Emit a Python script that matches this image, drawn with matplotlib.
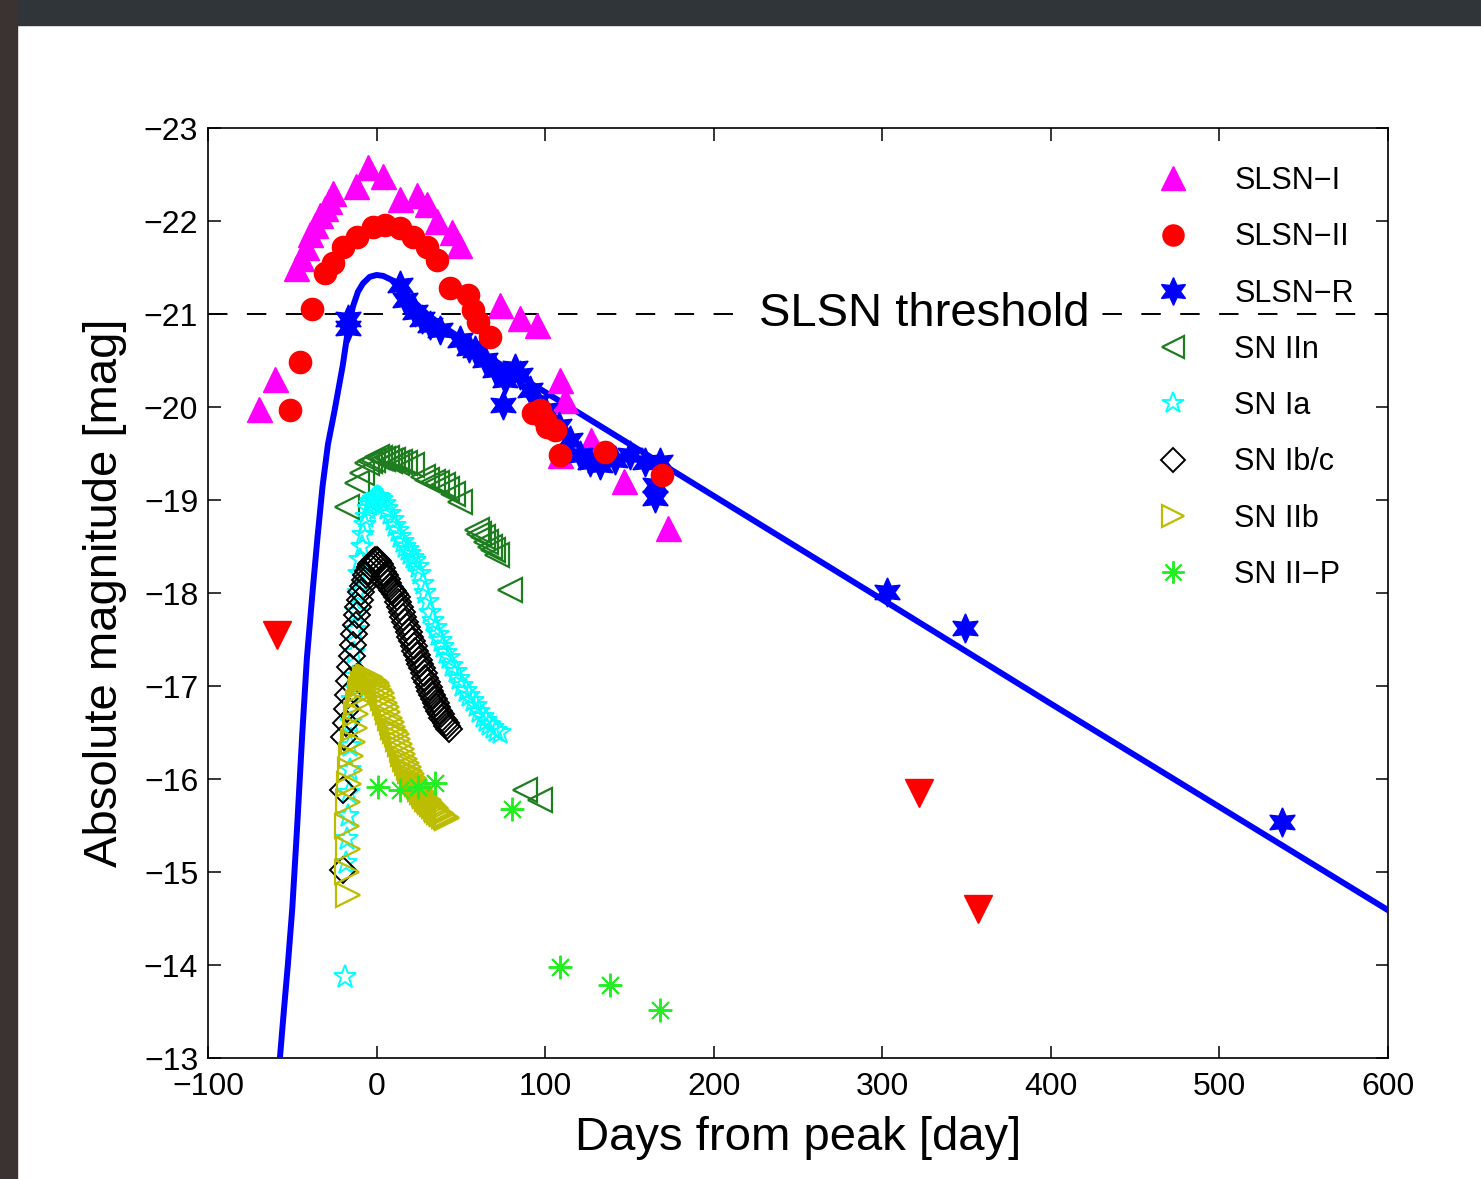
import matplotlib
matplotlib.use("Agg")
import matplotlib.pyplot as plt
from matplotlib.patches import Rectangle

plt.rcParams["font.family"] = ["Liberation Sans", "DejaVu Sans"]

# ── data ────────────────────────────────────────────────────────────────────
slsn1_days = [-70, -60, -48, -45, -42, -39.5, -36.5, -33.6, -30.5, -28, -26,
              -12, -5, 4, 14, 24, 30, 36, 45, 49, 73, 85, 95, 109, 112, 109,
              127, 147, 173]
slsn1_mag = [-19.98, -20.3, -21.5, -21.6, -21.72, -21.86, -21.96, -22.06,
             -22.14, -22.22, -22.3, -22.38, -22.58, -22.48, -22.24, -22.28,
             -22.18, -22.0, -21.88, -21.74, -21.1, -20.96, -20.88, -20.29,
             -20.08, -19.48, -19.65, -19.2, -18.7]

slsn2_days = [-51.4, -45.4, -38.3, -30.6, -25.9, -20, -11.6, -2.1, 5, 13.9,
              21.6, 29.9, 35.8, 43.5, 54.2, 57.2, 60.2, 67.3, 92.8, 97, 100,
              101, 105.8, 108.8, 135.5, 169.3]
slsn2_mag = [-19.97, -20.48, -21.05, -21.44, -21.55, -21.72, -21.83, -21.94,
             -21.96, -21.92, -21.83, -21.72, -21.58, -21.28, -21.2, -21.04,
             -20.91, -20.75, -19.94, -19.97, -19.86, -19.79, -19.75, -19.48,
             -19.52, -19.27]

slsn2_lim_days = [-59, 322, 357]
slsn2_lim_mag = [-17.55, -15.85, -14.6]

slsnr_days = [-17, -17, 13.9, 16.8, 22.8, 27, 31.7, 37.6, 49.5, 55, 58.4,
              64.3, 70.2, 76.2, 82.1, 85, 75, 91, 95, 99.9, 108, 114.7, 120.6,
              126.6, 132.5, 141.4, 150.3, 159.2, 168.1, 165.1, 165.1, 302.7,
              349, 537]
slsnr_mag = [-20.95, -20.85, -21.31, -21.15, -21.02, -20.95, -20.88, -20.83,
             -20.72, -20.64, -20.61, -20.51, -20.4, -20.29, -20.42, -20.34,
             -20.02, -20.18, -20.05, -19.97, -19.8, -19.65, -19.48, -19.41,
             -19.38, -19.43, -19.48, -19.41, -19.41, -19.16, -19.02, -18.01,
             -17.62, -15.54]

model_days = [-57.3, -55, -52.6, -50, -47.2, -44, -41.3, -38, -35, -32,
              -28.8, -25, -22.5, -20, -17, -14, -11, -8, -4, 0, 4, 9.7, 15,
              20, 30, 40, 60, 80, 101, 204, 300, 400, 500, 600]
model_mag = [-13.0, -13.5, -14.0, -14.6, -15.45, -16.5, -17.3, -18.0, -18.6,
             -19.15, -19.6, -19.95, -20.2, -20.45, -20.82, -21.08, -21.24,
             -21.33, -21.4, -21.42, -21.41, -21.36, -21.27, -21.17, -21.0,
             -20.86, -20.62, -20.38, -20.15, -19.0, -17.93, -16.81, -15.7,
             -14.59]

iin_days = [-17.6, -11.6, -8.7, -5.7, -4, -2.1, 0, 2, 4, 6.2, 8, 9.7, 12,
            13.9, 17, 21, 27.5, 30, 33.5, 36, 39.4, 42, 45.3, 49.5, 59.5, 61,
            63.1, 65, 67.3, 69, 71.4, 79.1, 88, 97]
iin_mag = [-18.92, -19.18, -19.29, -19.4, -19.42, -19.43, -19.46, -19.45,
           -19.44, -19.45, -19.42, -19.43, -19.4, -19.41, -19.4, -19.38,
           -19.25, -19.22, -19.19, -19.18, -19.16, -19.12, -19.07, -18.98,
           -18.68, -18.64, -18.6, -18.55, -18.5, -18.46, -18.41, -18.03,
           -15.88, -15.77]

ia_days = [-18.7, -18, -17.5, -17, -16.5, -16, -15.5, -15, -14.5, -14, -13.3,
           -12.6, -11.9, -11.2, -10.5, -9.7, -8.9, -8, -7, -6, -5, -4, -3,
           -2, -1, 0, 1, 2, 3.5, 5, 6.5, 8, 9.5, 11, 12.5, 14, 15.5, 17, 18.5,
           20, 21.5, 23, 24.5, 26, 27.5, 29, 30.5, 32, 33.5, 35, 36.5, 38,
           39.5, 41, 43, 45, 47, 49, 51, 53, 55, 57, 59, 61, 63, 65, 67, 69,
           71, 73]
ia_mag = [-13.87, -15.1, -15.35, -15.6, -15.85, -16.1, -16.35, -16.6, -16.85,
          -17.1, -17.35, -17.6, -17.8, -18.0, -18.2, -18.35, -18.5, -18.62,
          -18.73, -18.82, -18.9, -18.95, -18.98, -19.0, -19.02, -19.03, -19.03,
          -19.02, -19.0, -18.96, -18.9, -18.85, -18.78, -18.72, -18.67, -18.6,
          -18.55, -18.5, -18.46, -18.42, -18.38, -18.34, -18.28, -18.2, -18.1,
          -18.0, -17.9, -17.78, -17.7, -17.62, -17.55, -17.48, -17.42, -17.36,
          -17.3, -17.22, -17.15, -17.08, -17.0, -16.95, -16.89, -16.84, -16.78,
          -16.72, -16.67, -16.62, -16.58, -16.55, -16.52, -16.49]

ibc_days = [-19.9, -19.9, -19, -18.3, -17.6, -16.9, -16.2, -15.5, -14.8, -14,
            -13.2, -12.4, -11.6, -10.8, -10, -9, -8, -7, -6, -5, -4, -3, -2,
            -1, 0, 1, 2, 3, 4, 5, 6, 7, 8, 9, 10, 11, 12, 13, 14, 15, 16, 17,
            18, 19, 20, 21, 22, 23, 24, 25, 26, 27, 28, 29, 30, 31, 32, 33,
            34, 35, 36, 37, 38, 39, 40, 41, 42, 43]
ibc_mag = [-15.02, -15.88, -16.45, -16.6, -16.75, -16.9, -17.05, -17.2,
           -17.32, -17.44, -17.56, -17.66, -17.76, -17.85, -17.93, -18.01,
           -18.08, -18.14, -18.19, -18.24, -18.28, -18.31, -18.33, -18.35,
           -18.35, -18.34, -18.31, -18.27, -18.23, -18.19, -18.15, -18.11,
           -18.07, -18.03, -18.02, -17.99, -17.96, -17.9, -17.85, -17.8,
           -17.74, -17.69, -17.63, -17.58, -17.53, -17.48, -17.43, -17.38,
           -17.33, -17.28, -17.24, -17.19, -17.14, -17.09, -17.04, -16.99,
           -16.95, -16.9, -16.86, -16.82, -16.77, -16.73, -16.7, -16.66,
           -16.63, -16.6, -16.57, -16.54]

iib_days = [-17, -17.5, -17, -17.5, -17, -16.5, -16, -15, -14, -13, -12, -11,
            -10, -9, -8, -7, -6, -5, -4, -3, -2, -1, 0, 1, 2, 3, 4, 5, 6, 7,
            8, 9, 10, 11, 12, 13, 14, 15, 16, 17, 18, 19, 20, 21, 22, 23, 24,
            25, 26, 27, 28, 29, 30, 31, 32, 33, 34, 35, 36, 37, 38, 39, 40,
            41, 42]
iib_mag = [-14.75, -15.0, -15.25, -15.5, -15.75, -15.95, -16.1, -16.25,
           -16.4, -16.55, -16.7, -16.82, -16.9, -16.97, -17.02, -17.06, -17.08,
           -17.1, -17.1, -17.09, -17.07, -17.05, -17.03, -17.0, -16.96, -16.92,
           -16.87, -16.82, -16.77, -16.72, -16.66, -16.61, -16.56, -16.52,
           -16.48, -16.43, -16.38, -16.32, -16.27, -16.22, -16.17, -16.13,
           -16.09, -16.05, -16.01, -15.98, -15.95, -15.92, -15.89, -15.86,
           -15.84, -15.82, -15.79, -15.77, -15.75, -15.73, -15.71, -15.69,
           -15.67, -15.65, -15.63, -15.62, -15.6, -15.59, -15.58]

iip_days = [0.8, 13.9, 24.6, 34.6, 80.3, 108.8, 138.4, 168.1]
iip_mag = [-15.91, -15.88, -15.91, -15.96, -15.68, -13.98, -13.78, -13.52]

threshold_mag = -21
threshold_label_day = 325
x_ticks = [-100, 0, 100, 200, 300, 400, 500, 600]
y_ticks = [-23, -22, -21, -20, -19, -18, -17, -16, -15, -14, -13]
legend_order = ["SLSN\u2212I", "SLSN\u2212II", "SLSN\u2212R", "SN IIn",
                "SN Ia", "SN Ib/c", "SN IIb", "SN II\u2212P"]

# ── figure ──────────────────────────────────────────────────────────────────
fig = plt.figure(figsize=(14.81, 11.79), dpi=100)
fig.patch.set_facecolor("white")
# dark photo border at the top and left edge
fig.patches.append(Rectangle((0, 0.979), 1, 0.021, transform=fig.transFigure,
                             color="#2f3538", zorder=-10))
fig.patches.append(Rectangle((0, 0), 0.0115, 1, transform=fig.transFigure,
                             color="#3a3331", zorder=-10))

ax = fig.add_axes([0.1404, 0.1026, 0.7968, 0.7888])

ax.axhline(threshold_mag, color="black", lw=1.4, ls=(0, (10, 10)), zorder=1)
ax.text(threshold_label_day, threshold_mag, "SLSN threshold", fontsize=34,
        ha="center", va="center", zorder=2,
        bbox=dict(facecolor="white", edgecolor="none", pad=6))

ax.plot(model_days, model_mag, color="#0000ff", lw=4.3, zorder=3)

star6 = (6, 1, 0)
asterisk8 = (8, 2, 0)

ax.plot(slsn1_days, slsn1_mag, "^", color="#ff00ff", ms=18,
        ls="none", label="SLSN\u2212I", zorder=4)
ax.plot(slsnr_days, slsnr_mag, marker=star6, color="#0000ff", ms=21,
        ls="none", label="SLSN\u2212R", zorder=5)
ax.plot(slsn2_days, slsn2_mag, "o", color="#ff0000", ms=16,
        ls="none", label="SLSN\u2212II", zorder=6)
ax.plot(slsn2_lim_days, slsn2_lim_mag, "v", color="#ff0000", ms=20,
        ls="none", zorder=6)

ax.plot(iin_days, iin_mag, "<", mfc="none", mec="#1e7d1e", ms=17, mew=1.6,
        ls="none", label="SN IIn", zorder=4)
ax.plot(ia_days, ia_mag, "*", mfc="none", mec="#00ffff", ms=17, mew=1.4,
        ls="none", label="SN Ia", zorder=4)
ax.plot(ibc_days, ibc_mag, "D", mfc="none", mec="black", ms=13, mew=1.4,
        ls="none", label="SN Ib/c", zorder=4)
ax.plot(iib_days, iib_mag, ">", mfc="none", mec="#bcbc00", ms=17, mew=1.6,
        ls="none", label="SN IIb", zorder=4)
ax.plot(iip_days, iip_mag, marker=asterisk8, mfc="none", mec="#22ee22",
        ms=17, mew=1.4, ls="none", label="SN II\u2212P", zorder=4)

ax.set_xlim(-100, 600)
ax.set_ylim(-13, -23)
ax.set_xticks(x_ticks)
ax.set_yticks(y_ticks)
ax.tick_params(direction="in", length=9, width=1.1, top=True, right=True,
               labelsize=23)
ax.tick_params(axis="x", pad=10)
ax.tick_params(axis="y", pad=7)
for sp in ax.spines.values():
    sp.set_linewidth(1.2)

ax.set_xlabel("Days from peak [day]", fontsize=34, labelpad=10)
ax.set_ylabel("Absolute magnitude [mag]", fontsize=34, labelpad=12)

handles, labels = ax.get_legend_handles_labels()
hmap = dict(zip(labels, handles))
ax.legend([hmap[k] for k in legend_order], legend_order, loc="upper left",
          bbox_to_anchor=(1158 / 1481, 1 - 166 / 1179),
          bbox_transform=fig.transFigure, frameon=False, fontsize=22,
          numpoints=1, handlelength=1.0, handletextpad=1.5, labelspacing=0.86,
          borderpad=0, borderaxespad=0, markerscale=0.95)

fig.savefig("out.png", dpi=100, facecolor=fig.get_facecolor())
